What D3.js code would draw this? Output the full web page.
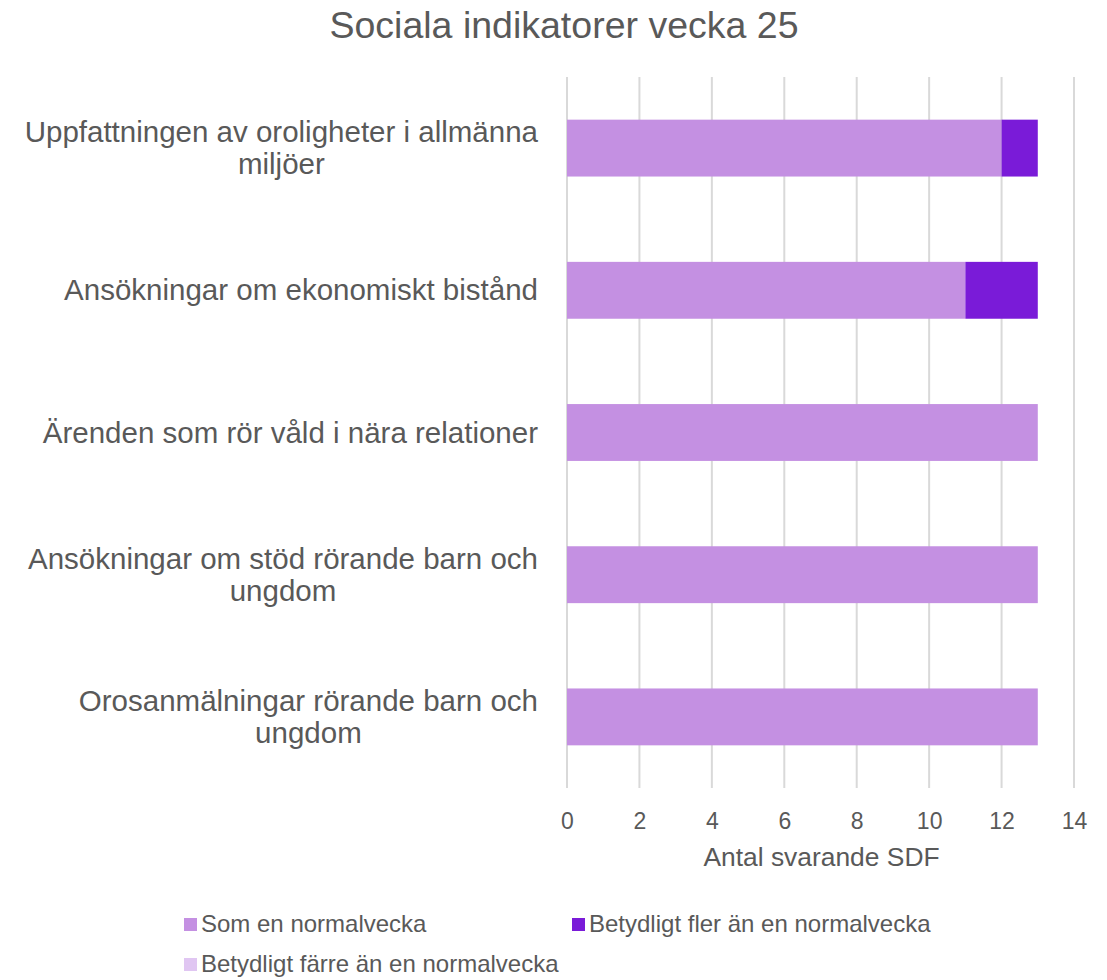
<!DOCTYPE html>
<html>
<head>
<meta charset="utf-8">
<script src="https://cdn.jsdelivr.net/npm/d3@7"></script>
<style>
  body { margin: 0; background: #fff; }
  text { font-family: "Liberation Sans", Arial, sans-serif; fill: #595959; }
</style>
</head>
<body>
<div id="chart"></div>
<script>
// chart data
var categories = [
  ["Uppfattningen av oroligheter i allmänna", "miljöer"],
  ["Ansökningar om ekonomiskt bistånd"],
  ["Ärenden som rör våld i nära relationer"],
  ["Ansökningar om stöd rörande barn och", "ungdom"],
  ["Orosanmälningar rörande barn och", "ungdom"]
];
var seriesNames = ["Som en normalvecka", "Betydligt fler än en normalvecka", "Betydligt färre än en normalvecka"];
var somNormal = [12, 11, 13, 13, 13];
var fler = [1, 2, 0, 0, 0];
var farre = [0, 0, 0, 0, 0];
var xTicks = [0, 2, 4, 6, 8, 10, 12, 14];
var colors = ["#c490e2", "#7a1bd8", "#e0c6f2"];

var svgWidth = 1107, svgHeight = 980;
var margin = { top: 77, left: 567, right: 33, bottom: 192 };
var chartWidth = svgWidth - margin.left - margin.right;
var chartHeight = svgHeight - margin.top - margin.bottom;

var svg = d3.select("#chart").append("svg")
  .attr("width", svgWidth)
  .attr("height", svgHeight);

svg.append("text")
  .attr("x", 564).attr("y", 38)
  .attr("text-anchor", "middle")
  .attr("font-size", 37.5)
  .text("Sociala indikatorer vecka 25");

var g = svg.append("g").attr("transform", "translate(" + margin.left + "," + margin.top + ")");

var x = d3.scaleLinear().domain([0, 14]).range([0, chartWidth]);
var y = d3.scaleBand().domain(d3.range(categories.length)).range([0, chartHeight]).paddingInner(0.6).paddingOuter(0.3);

// gridlines
g.selectAll(".grid").data(xTicks).enter().append("line")
  .attr("x1", d => x(d)).attr("x2", d => x(d))
  .attr("y1", 0).attr("y2", chartHeight)
  .attr("stroke", "#d9d9d9").attr("stroke-width", 2);

// stacked bars
var rows = categories.map((c, i) => ({ i: i, a: somNormal[i], b: fler[i], c: farre[i] }));
var stack = d3.stack().keys(["a", "b", "c"])(rows);
stack.forEach(function(layer, k) {
  g.selectAll(".bar" + k).data(layer).enter().append("rect")
    .attr("x", d => x(d[0]))
    .attr("width", d => x(d[1]) - x(d[0]))
    .attr("y", d => y(d.data.i))
    .attr("height", y.bandwidth())
    .attr("fill", colors[k]);
});

// x axis tick labels
var xAxis = d3.axisBottom(x).tickValues(xTicks).tickSize(0).tickPadding(25);
var ax = g.append("g").attr("transform", "translate(0," + chartHeight + ")").call(xAxis);
ax.select(".domain").remove();
ax.selectAll("text").attr("font-size", 23).attr("fill", "#595959")
  .style("font-family", '"Liberation Sans", Arial, sans-serif');

svg.append("text")
  .attr("x", margin.left + chartWidth / 2 + 1).attr("y", 866)
  .attr("text-anchor", "middle")
  .attr("font-size", 26.4)
  .text("Antal svarande SDF");

// category labels: block right aligned, lines centered
var labelRight = 538;
categories.forEach(function(lines, i) {
  var cy = margin.top + y(i) + y.bandwidth() / 2;
  var t = svg.append("text").attr("font-size", 29.5).attr("text-anchor", "middle");
  var lineH = 32;
  var y0 = cy - (lines.length - 1) * lineH / 2 + 10;
  var spans = lines.map(function(l, j) {
    return t.append("tspan").attr("y", y0 + j * lineH).text(l);
  });
  var w = d3.max(spans, s => s.node().getComputedTextLength());
  spans.forEach(s => s.attr("x", labelRight - w / 2));
});

// legend
var legendPos = [[184, 924], [572, 924], [184, 964]];
seriesNames.forEach(function(name, k) {
  var lg = svg.append("g").attr("transform", "translate(" + legendPos[k][0] + "," + legendPos[k][1] + ")");
  lg.append("rect").attr("x", 0).attr("y", -6).attr("width", 13).attr("height", 13).attr("fill", colors[k]);
  lg.append("text").attr("x", 17).attr("y", 8).attr("font-size", 24).text(name);
});
</script>
</body>
</html>
